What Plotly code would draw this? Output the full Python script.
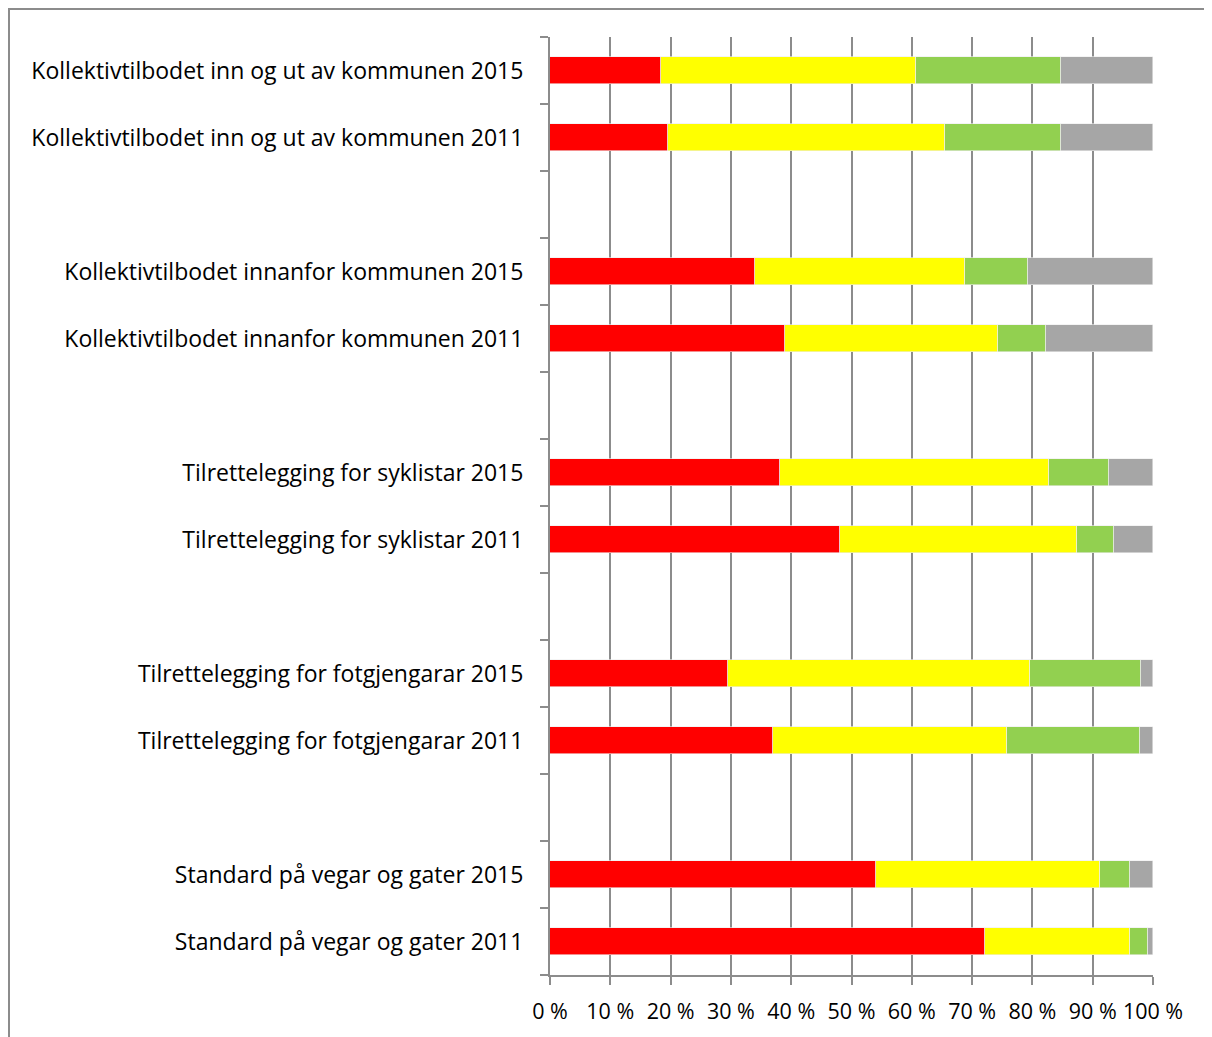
import plotly.graph_objects as go

# Slots from top to bottom; None = empty slot
labels = [
    "Kollektivtilbodet inn og ut av kommunen 2015",
    "Kollektivtilbodet inn og ut av kommunen 2011",
    None,
    "Kollektivtilbodet innanfor kommunen 2015",
    "Kollektivtilbodet innanfor kommunen 2011",
    None,
    "Tilrettelegging for syklistar 2015",
    "Tilrettelegging for syklistar 2011",
    None,
    "Tilrettelegging for fotgjengarar 2015",
    "Tilrettelegging for fotgjengarar 2011",
    None,
    "Standard på vegar og gater 2015",
    "Standard på vegar og gater 2011",
]

# Shares (%) per series, for non-empty slots in order
red_vals = [18.4, 19.6, 34.0, 39.0, 38.1, 48.1, 29.5, 37.0, 54.1, 72.1]
yellow_vals = [42.3, 45.9, 34.8, 35.3, 44.7, 39.3, 50.1, 38.8, 37.1, 24.1]
green_vals = [24.0, 19.2, 10.5, 8.0, 9.9, 6.1, 18.4, 22.0, 5.0, 3.0]
gray_vals = [15.3, 15.3, 20.7, 17.7, 7.3, 6.5, 2.0, 2.2, 3.8, 0.8]

x_ticks = [0, 10, 20, 30, 40, 50, 60, 70, 80, 90, 100]
x_ticktext = [f"{v} %" for v in x_ticks]

colors = ["#FF0000", "#FFFF00", "#92D050", "#A6A6A6"]
series = [red_vals, yellow_vals, green_vals, gray_vals]

pos = [i for i, l in enumerate(labels) if l is not None]
txt = [l for l in labels if l is not None]

fig = go.Figure()
for vals, c in zip(series, colors):
    fig.add_trace(go.Bar(
        x=vals, y=pos, orientation="h", width=0.4,
        marker=dict(color=c, line=dict(width=0.6, color="#EDEDED")),
        showlegend=False, hoverinfo="x",
    ))

# page body has an 8px margin
W, H = 1204, 1029
L, R, T, B = 542, 59, 29, 62
pw, ph = W - L - R, H - T - B

fig.update_layout(
    width=W, height=H, barmode="stack", bargap=0,
    margin=dict(l=L, r=R, t=T, b=B, autoexpand=False),
    paper_bgcolor="white", plot_bgcolor="white",
    font=dict(family="Open Sans, sans-serif", size=22, color="black"),
    xaxis=dict(
        range=[0, 100], tickvals=x_ticks, ticktext=x_ticktext,
        showgrid=True, gridcolor="#8C8C8C", gridwidth=2,
        showline=True, linecolor="#8C8C8C", linewidth=2,
        ticks="outside", ticklen=8, tickcolor="#8C8C8C", tickwidth=2,
        ticklabelstandoff=8, zeroline=False,
        tickfont=dict(size=21.5),
    ),
    yaxis=dict(
        range=[len(labels) - 0.5, -0.5], tickvals=pos, ticktext=txt,
        showgrid=False, zeroline=False,
        showline=True, linecolor="#8C8C8C", linewidth=2,
        ticks="", ticklabelstandoff=20,
        minor=dict(tickvals=[i - 0.5 for i in range(len(labels) + 1)],
                   ticks="outside", ticklen=8, tickcolor="#8C8C8C", tickwidth=2,
                   showgrid=False),
        tickfont=dict(size=23),
    ),
    shapes=[dict(
        type="rect", xref="paper", yref="paper",
        x0=-(L - 1) / pw, x1=(W + 20 - L) / pw,
        y0=-(B + 20) / ph, y1=(ph + T - 1) / ph,
        line=dict(color="#8C8C8C", width=2), fillcolor="rgba(0,0,0,0)", layer="below",
    )],
)

fig.write_html("out.html")
